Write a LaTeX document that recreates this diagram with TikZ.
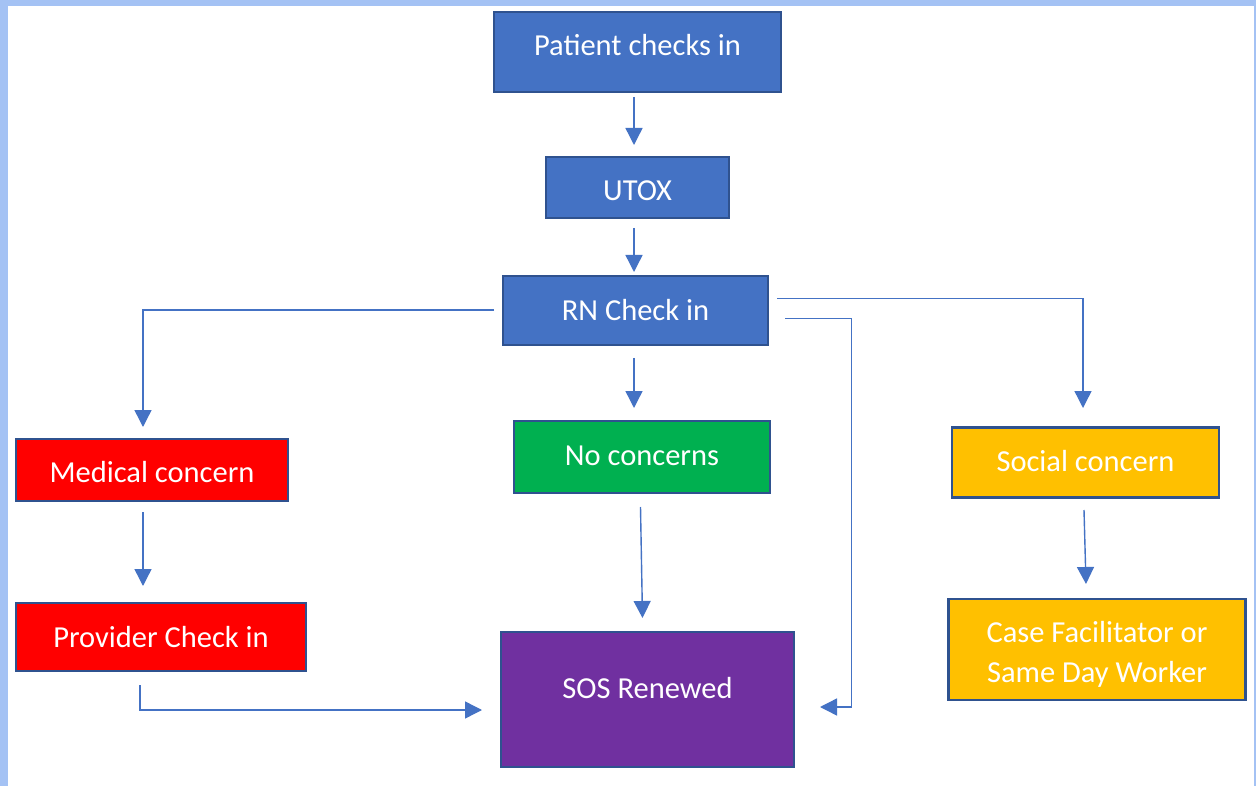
\documentclass[tikz,border=0pt]{standalone}
\usepackage{fontspec}
\setmainfont{Carlito}
\usetikzlibrary{arrows.meta}
\definecolor{frameblue}{HTML}{A4C2F4}
\definecolor{boxblue}{HTML}{4472C4}
\definecolor{edgeblue}{HTML}{2F528F}
\definecolor{medred}{HTML}{FF0000}
\definecolor{nogreen}{HTML}{00B050}
\definecolor{socorange}{HTML}{FFC000}
\definecolor{sospurple}{HTML}{7030A0}
\begin{document}
\begin{tikzpicture}[x=1pt,y=-1pt,
  box/.style={draw=edgeblue, line width=2.5pt, text=white, inner sep=0pt,
    font=\fontsize{30.5}{40}\selectfont, align=center},
  one/.style={text height=26pt, text depth=#1},
  conn/.style={draw=boxblue, line width=1.4pt,
    -{Triangle[width=17pt,length=17pt]}}]
\useasboundingbox (0,0) rectangle (1256,786);
\fill[frameblue] (0,0) rectangle (1256,786);
\fill[white] (8,6) rectangle (1254,786);
% nodes
\node[box, one=19pt, fill=boxblue, minimum width=287pt, minimum height=80pt] (pat) at (637.5,52) {Patient checks in};
\node[box, one=0pt, fill=boxblue, minimum width=183pt, minimum height=61pt] (utox) at (637.5,187.5) {UTOX};
\node[box, one=6pt, fill=boxblue, minimum width=265pt, minimum height=69pt] (rn) at (635.5,310.5) {RN Check in};
\node[box, one=1pt, fill=medred, minimum width=272pt, minimum height=62pt] (med) at (152,470) {Medical concern};
\node[box, one=9pt, fill=nogreen, minimum width=256pt, minimum height=72pt] (noc) at (642,457) {No concerns};
\node[box, one=8pt, fill=socorange, minimum width=267pt, minimum height=70pt] (soc) at (1085.5,462.5) {Social concern};
\node[box, one=5pt, fill=medred, minimum width=290pt, minimum height=68pt] (prov) at (161,637) {Provider Check in};
\node[box, one=29pt, fill=sospurple, minimum width=293pt, minimum height=135pt] (sos) at (647.5,699.5) {SOS Renewed};
\node[box, fill=socorange, minimum width=297pt, minimum height=101pt] (case) at (1097,649.5) {\rule{0pt}{31pt}Case Facilitator or\\Same Day Worker};
% connector ends
\coordinate (a1s) at (634,97);   \coordinate (a1e) at (634,145);
\coordinate (a2s) at (634,228);  \coordinate (a2e) at (634,272);
\coordinate (a3s) at (634,358);  \coordinate (a3e) at (634,408);
\coordinate (a4s) at (494,310);  \coordinate (a4e) at (143,427);
\coordinate (a5s) at (777,298.5);\coordinate (a5e) at (1083,408);
\coordinate (a6s) at (785,318.5);\coordinate (a6m) at (851.5,707);\coordinate (a6e) at (820,707);
\coordinate (a7s) at (143,512);  \coordinate (a7e) at (143,586);
\coordinate (a8s) at (640.5,507);\coordinate (a8e) at (642.5,618);
\coordinate (a9s) at (140,685);  \coordinate (a9e) at (482,710);
\coordinate (a10s) at (1084,510);\coordinate (a10e) at (1086,584);
% connectors
\draw[conn] (a1s) -- (a1e);
\draw[conn] (a2s) -- (a2e);
\draw[conn] (a3s) -- (a3e);
\draw[conn] (a4s) -| (a4e);
\draw[conn] (a5s) -| (a5e);
\draw[conn] (a6s) -| (a6m) -- (a6e);
\draw[conn] (a7s) -- (a7e);
\draw[conn] (a8s) -- (a8e);
\draw[conn] (a9s) |- (a9e);
\draw[conn] (a10s) -- (a10e);
\end{tikzpicture}
\end{document}
